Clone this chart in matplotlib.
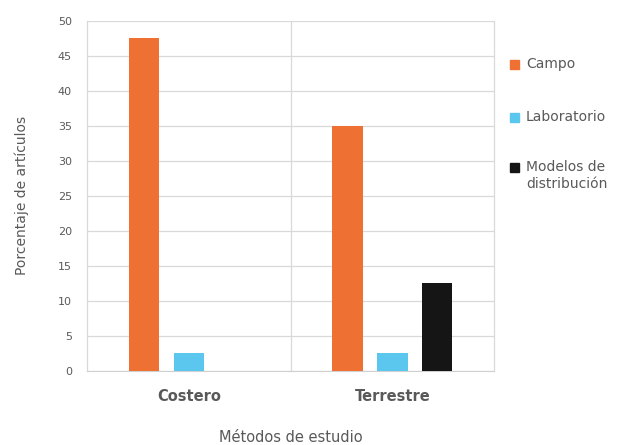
import numpy as np
import matplotlib.pyplot as plt
from matplotlib.patches import Rectangle

plt.rcParams['font.family'] = ['DejaVu Sans']

categorias = ['Costero', 'Terrestre']
series = ['Campo', 'Laboratorio', 'Modelos de\ndistribución']
campo = [47.5, 35]
laboratorio = [2.5, 2.5]
modelos = [0, 12.5]
colores = ['#EE7032', '#5BC6EE', '#151515']

gris = '#595959'
W, H = 627, 445
fig = plt.figure(figsize=(W / 100, H / 100), dpi=100)
ax = fig.add_axes([0.139, 0.167, 0.649, 0.786])

x = np.arange(len(categorias))
ancho = 0.15
paso = 0.22
for i, vals in enumerate([campo, laboratorio, modelos]):
    ax.bar(x + (i - 1) * paso, vals, ancho, color=colores[i], zorder=3)

ax.set_xlim(-0.5, 1.5)
ax.set_ylim(0, 50)
ax.set_yticks(np.arange(0, 51, 5))
ax.set_xticks(x)
ax.set_xticklabels(categorias, fontsize=10.5, fontweight='bold', color=gris)

# rejilla horizontal y separadores de categoría
ax.grid(axis='y', color='#d9d9d9', linewidth=0.9, zorder=0)
for xv in [-0.5, 0.5, 1.5]:
    ax.axvline(xv, color='#d9d9d9', linewidth=0.9, zorder=0, clip_on=False)
for s in ['top', 'right', 'left']:
    ax.spines[s].set_visible(False)
ax.spines['bottom'].set_color('#d0d0d0')
ax.tick_params(axis='both', length=0)
ax.tick_params(axis='y', labelsize=8, labelcolor=gris, pad=11)
ax.tick_params(axis='x', pad=13)

ax.set_ylabel('Porcentaje de artículos', fontsize=10, color=gris, labelpad=21)
ax.set_xlabel('Métodos de estudio', fontsize=10.5, color=gris, labelpad=19)

# leyenda a la derecha, cuadrito alineado con la primera línea
ys = [64, 117, 167]
for nombre, color, yp in zip(series, colores, ys):
    fig.add_artist(Rectangle(((510) / W, (H - yp - 4.5) / H), 9 / W, 9 / H,
                             color=color, transform=fig.transFigure))
    fig.text(526 / W, (H - yp + 7) / H, nombre, fontsize=10, color=gris,
             va='top', ha='left', linespacing=1.25)

fig.savefig('out.png', dpi=100)
